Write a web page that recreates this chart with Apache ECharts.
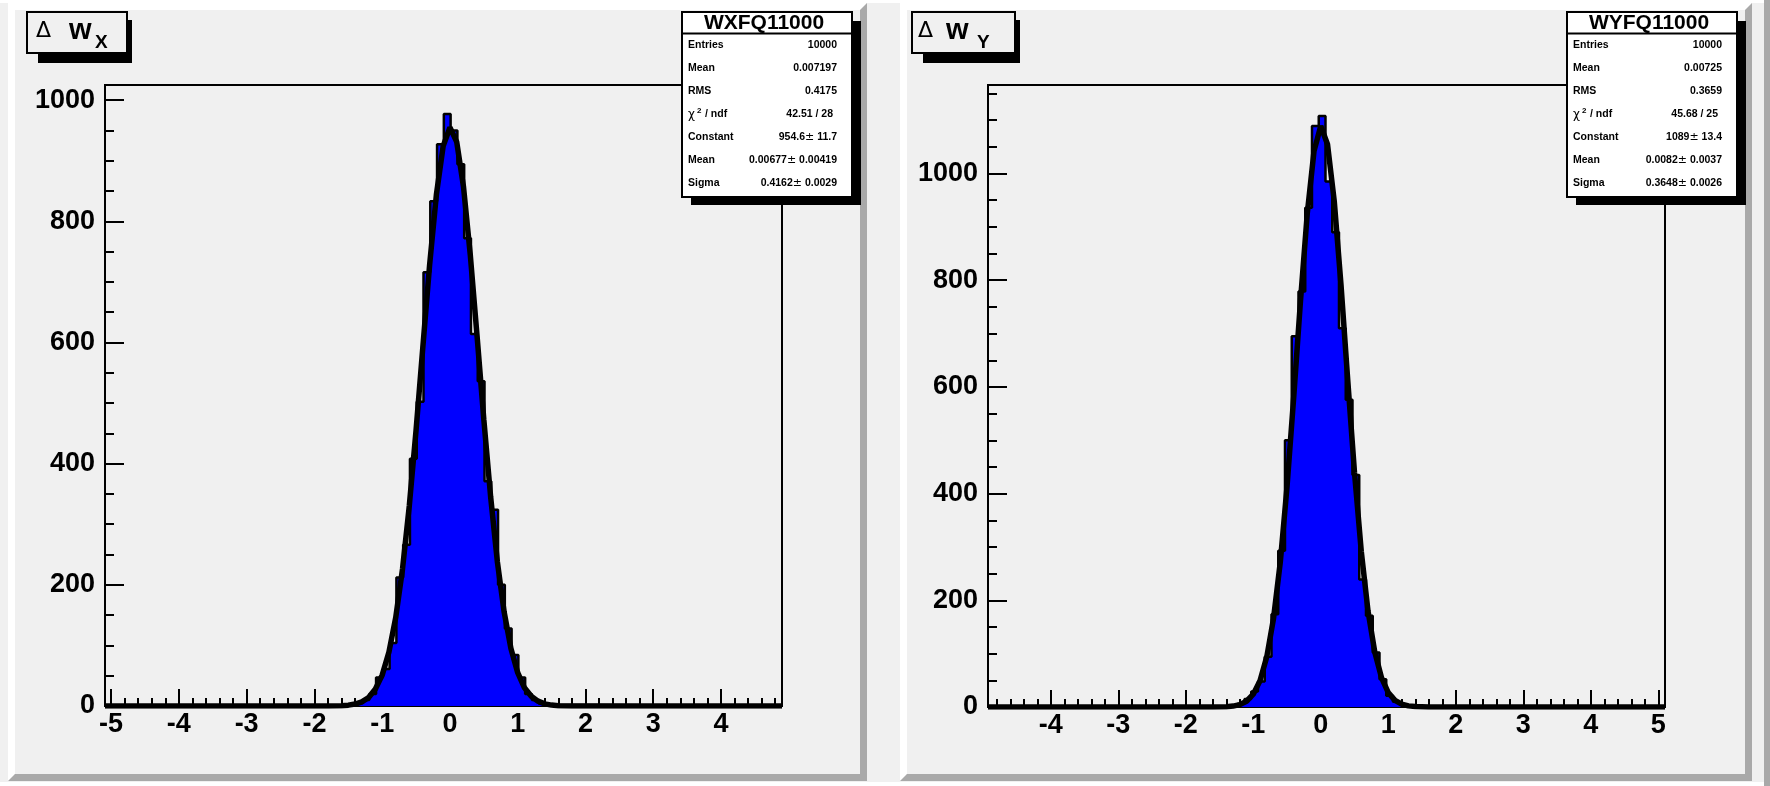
<!DOCTYPE html>
<html>
<head>
<meta charset="utf-8">
<title>WXFQ11000 / WYFQ11000</title>
<script src="https://cdn.jsdelivr.net/npm/echarts@6/dist/echarts.min.js"></script>
<style>
html, body { margin: 0; padding: 0; background: #f0f0f0; }
#chart { width: 1770px; height: 786px; }
</style>
</head>
<body>
<div id="chart"></div>
<script>
// ---- Δw_X (left pad) ----
var wxBinStart = -1.49;   // lower edge of first non-empty bin
var wxBinWidth = 0.1;
var wxCounts = [2, 5, 10, 20, 47, 61, 104, 212, 266, 408, 502, 716, 833, 927, 977,
                950, 894, 772, 614, 536, 371, 324, 200, 128, 84, 47, 20, 10, 4, 2];
var wxFitX = [-5.09, -2.0, -1.8, -1.6, -1.5, -1.4, -1.3, -1.2, -1.1, -1.0, -0.9, -0.8, -0.7, -0.6,
              -0.5, -0.4, -0.3, -0.2, -0.1, 0, 0.1, 0.2, 0.3, 0.4, 0.5, 0.6, 0.7, 0.8, 0.9, 1.0,
              1.1, 1.2, 1.3, 1.4, 1.5, 1.6, 1.8, 2.0, 4.9];
var wxFitY = [0, 0, 0.1, 0.6, 1.4, 3.2, 6.9, 14, 28, 51, 89, 146, 226, 330,
              455, 592, 728, 844, 924, 955, 931, 857, 745, 611, 473, 346, 238, 155, 95, 55,
              30, 16, 8, 3.5, 1.5, 0.6, 0.1, 0, 0];
var wxRange = [-5.09, 4.9];
var wxYMax = 1025;
var wxXTicks = [-5, -4, -3, -2, -1, 0, 1, 2, 3, 4];
var wxYTicks = [0, 200, 400, 600, 800, 1000];
var wxStats = [['Entries', '10000'], ['Mean', '0.007197'], ['RMS', '0.4175'], ['chi', '42.51 / 28'],
               ['Constant', '954.6± 11.7'], ['Mean', '0.00677± 0.00419'], ['Sigma', '0.4162± 0.0029']];

// ---- Δw_Y (right pad) ----
var wyBinStart = -1.33;
var wyBinWidth = 0.1;
var wyCounts = [2, 6, 15, 29, 48, 94, 174, 293, 500, 695, 779, 936, 1089, 1108,
                985, 890, 710, 576, 435, 239, 171, 102, 52, 21, 10, 4, 2];
var wyFitX = [-4.93, -2.0, -1.6, -1.4, -1.3, -1.2, -1.1, -1.0, -0.9, -0.8, -0.7, -0.6, -0.5, -0.4,
              -0.3, -0.2, -0.1, 0, 0.1, 0.2, 0.3, 0.4, 0.5, 0.6, 0.7, 0.8, 0.9, 1.0, 1.1, 1.2,
              1.3, 1.4, 1.6, 2.0, 5.1];
var wyFitY = [0, 0, 0.05, 0.6, 1.7, 4.5, 10.8, 24, 49, 94, 166, 271, 413, 582,
              762, 925, 1042, 1089, 1055, 948, 791, 612, 439, 292, 180, 103, 55, 27, 12.4, 5.2,
              2.1, 0.8, 0.1, 0, 0];
var wyRange = [-4.93, 5.1];
var wyYMax = 1166;
var wyXTicks = [-4, -3, -2, -1, 0, 1, 2, 3, 4, 5];
var wyYTicks = [0, 200, 400, 600, 800, 1000];
var wyStats = [['Entries', '10000'], ['Mean', '0.00725'], ['RMS', '0.3659'], ['chi', '45.68 / 25'],
               ['Constant', '1089± 13.4'], ['Mean', '0.0082± 0.0037'], ['Sigma', '0.3648± 0.0026']];

var FONT = "'Liberation Sans', Arial, Helvetica, sans-serif";
var SYM = "'DejaVu Sans', 'Liberation Sans', sans-serif";

// histogram outline as a step line (points at bin lower edges)
function stepData(range, start, width, counts) {
	var d = [[range[0], 0]];
	for (var i = 0; i < counts.length; i++) {
		d.push([+(start + i * width).toFixed(2), counts[i]]);
	}
	d.push([+(start + counts.length * width).toFixed(2), 0]);
	d.push([range[1], 0]);
	return d;
}
function zip(xs, ys) {
	var d = [];
	for (var i = 0; i < xs.length; i++) d.push([xs[i], ys[i]]);
	return d;
}
function minorTicks(from, to, step, major) {
	var out = [];
	for (var k = Math.ceil(from / step - 1e-9); k * step <= to + 1e-9; k++) {
		var v = +(k * step).toFixed(3);
		if (Math.abs(v / major - Math.round(v / major)) > 1e-6) out.push(v);
	}
	return out;
}
function plain(v) { return String(v); }

function xAxisPair(grid, range, ticks) {
	var base = { type: 'value', gridIndex: grid, min: range[0], max: range[1], position: 'bottom',
		axisLine: { show: false, onZero: false }, splitLine: { show: false } };
	var major = Object.assign({}, base, {
		axisTick: { show: true, inside: true, length: 17, customValues: ticks, lineStyle: { color: '#000', width: 2 } },
		axisLabel: { show: true, customValues: ticks, formatter: plain, margin: 5, color: '#000', fontSize: 27, fontWeight: 'bold', fontFamily: FONT }
	});
	var minor = Object.assign({}, base, {
		axisTick: { show: true, inside: true, length: 8, customValues: minorTicks(range[0], range[1], 0.2, 1), lineStyle: { color: '#000', width: 2 } },
		axisLabel: { show: false }
	});
	return [major, minor];
}
function yAxisPair(grid, max, ticks) {
	var base = { type: 'value', gridIndex: grid, min: 0, max: max, position: 'left',
		axisLine: { show: false, onZero: false }, splitLine: { show: false } };
	var major = Object.assign({}, base, {
		axisTick: { show: true, inside: true, length: 19, customValues: ticks, lineStyle: { color: '#000', width: 2 } },
		axisLabel: { show: true, customValues: ticks, formatter: plain, margin: 10, color: '#000', fontSize: 27, fontWeight: 'bold', fontFamily: FONT }
	});
	var minor = Object.assign({}, base, {
		axisTick: { show: true, inside: true, length: 9, customValues: minorTicks(0, max, 50, 200), lineStyle: { color: '#000', width: 2 } },
		axisLabel: { show: false }
	});
	return [major, minor];
}

// ---- decorations (pads, title boxes, stat boxes) ----
var gfx = [];
function rect(x, y, w, h, fill, stroke, z) {
	gfx.push({ type: 'rect', z: z, silent: true, shape: { x: x, y: y, width: w, height: h },
		style: { fill: fill, stroke: stroke || null, lineWidth: stroke ? 2 : 0 } });
}
function poly(points, fill, z) {
	gfx.push({ type: 'polygon', z: z, silent: true, shape: { points: points }, style: { fill: fill } });
}
function txt(x, y, s, size, weight, family, align, rich) {
	var st = { text: s, font: weight + ' ' + size + 'px ' + family, fontSize: size, fontWeight: weight, fontFamily: family, fill: '#000',
		align: align || 'left', textAlign: align || 'left', verticalAlign: 'middle', textVerticalAlign: 'middle' };
	if (rich) st.rich = rich;
	gfx.push({ type: 'text', z: 120, silent: true, x: x, y: y, style: st });
}
function pad(x0, y0, x1, y1) {
	var b = 7;
	poly([[x0, y0], [x1, y0], [x1 - b, y0 + b], [x0 + b, y0 + b], [x0 + b, y1 - b], [x0, y1]], '#ffffff', -10);
	poly([[x1, y0], [x1, y1], [x0, y1], [x0 + b, y1 - b], [x1 - b, y1 - b], [x1 - b, y0 + b]], '#a9a9a9', -10);
}
function titleBox(x0, y0, x1, y1, dx, wx, sx, sub) {
	rect(x0 + 11, y0 + 8, x1 - x0 - 6, y1 - y0 + 2, '#000', null, 100);
	rect(x0, y0, x1 - x0, y1 - y0, '#f0f0f0', '#000', 101);
	txt(dx, 31, 'Δ', 22, 'normal', SYM);
	txt(wx, 31, 'w', 29, 'bold', FONT);
	txt(sx, 43, sub, 19, 'bold', FONT);
}
function statsBox(x0, x1, title, rows) {
	var y0 = 12, y1 = 197;
	rect(x0 + 9, y0 + 9, x1 - x0, y1 - y0 - 1, '#000', null, 100);
	rect(x0, y0, x1 - x0, y1 - y0, '#ffffff', '#000', 101);
	gfx.push({ type: 'line', z: 102, silent: true, shape: { x1: x0, y1: 33.5, x2: x1, y2: 33.5 }, style: { stroke: '#000', lineWidth: 2 } });
	txt((x0 + x1) / 2 - 3, 23, title, 21, 'bold', FONT, 'center');
	var rich = {
		b: { fontSize: 10.5, fontWeight: 'bold', fontFamily: FONT, fill: '#000' },
		n: { fontSize: 11, fontWeight: 'normal', fontFamily: SYM, fill: '#000' }
	};
	for (var i = 0; i < rows.length; i++) {
		var y = 45 + 23 * i;
		var label = rows[i][0], val = rows[i][1];
		if (label === 'chi') {
			txt(x0 + 6, y + 1, 'χ', 12, 'normal', SYM);
			txt(x0 + 15, y - 3, '2', 8, 'bold', FONT);
			txt(x0 + 23, y, '/ ndf', 10.5, 'bold', FONT);
			txt(x1 - 19, y, val, 10.5, 'bold', FONT, 'right');
		} else {
			txt(x0 + 6, y, label, 10.5, 'bold', FONT);
			var parts = val.split('±');
			if (parts.length === 2) {
				txt(x1 - 15, y, '{b|' + parts[0] + '}{n|±}{b|' + parts[1] + '}', 10.5, 'bold', FONT, 'right', rich);
			} else {
				txt(x1 - 15, y, val, 10.5, 'bold', FONT, 'right');
			}
		}
	}
}

rect(0, 0, 1770, 3, '#ffffff', null, -11);
rect(1764, 0, 6, 786, '#a9a9a9', null, -11);
rect(0, 782, 1764, 4, '#ffffff', null, -11);
pad(8, 3, 867, 781);
pad(900, 3, 1752, 781);
titleBox(27, 12, 127, 53, 36, 69, 95, 'X');
titleBox(912, 12, 1015, 53, 918, 946, 977, 'Y');
statsBox(682, 852, 'WXFQ11000', wxStats);
statsBox(1567, 1737, 'WYFQ11000', wyStats);

var xl = xAxisPair(0, wxRange, wxXTicks), xr = xAxisPair(1, wyRange, wyXTicks);
var yl = yAxisPair(0, wxYMax, wxYTicks), yr = yAxisPair(1, wyYMax, wyYTicks);

var myChart = echarts.init(document.getElementById('chart'), null, { renderer: 'canvas' });
var option = {
	animation: false,
	backgroundColor: '#f0f0f0',
	grid: [
		{ left: 105, top: 85, width: 677, height: 621, show: true, borderColor: '#000', borderWidth: 2, backgroundColor: 'transparent' },
		{ left: 988, top: 85, width: 677, height: 622, show: true, borderColor: '#000', borderWidth: 2, backgroundColor: 'transparent' }
	],
	xAxis: [xl[0], xl[1], xr[0], xr[1]],
	yAxis: [yl[0], yl[1], yr[0], yr[1]],
	series: [
		{ type: 'line', xAxisIndex: 0, yAxisIndex: 0, step: 'end', symbol: 'none', silent: true, z: 2,
		  data: stepData(wxRange, wxBinStart, wxBinWidth, wxCounts),
		  lineStyle: { color: '#000', width: 2.5 }, areaStyle: { color: '#0000ff', opacity: 1 } },
		{ type: 'line', xAxisIndex: 0, yAxisIndex: 0, symbol: 'none', silent: true, z: 3,
		  data: zip(wxFitX, wxFitY), lineStyle: { color: '#000', width: 5.5 } },
		{ type: 'line', xAxisIndex: 2, yAxisIndex: 2, step: 'end', symbol: 'none', silent: true, z: 2,
		  data: stepData(wyRange, wyBinStart, wyBinWidth, wyCounts),
		  lineStyle: { color: '#000', width: 2.5 }, areaStyle: { color: '#0000ff', opacity: 1 } },
		{ type: 'line', xAxisIndex: 2, yAxisIndex: 2, symbol: 'none', silent: true, z: 3,
		  data: zip(wyFitX, wyFitY), lineStyle: { color: '#000', width: 5.5 } }
	],
	graphic: { elements: gfx }
};
myChart.setOption(option);
</script>
</body>
</html>
